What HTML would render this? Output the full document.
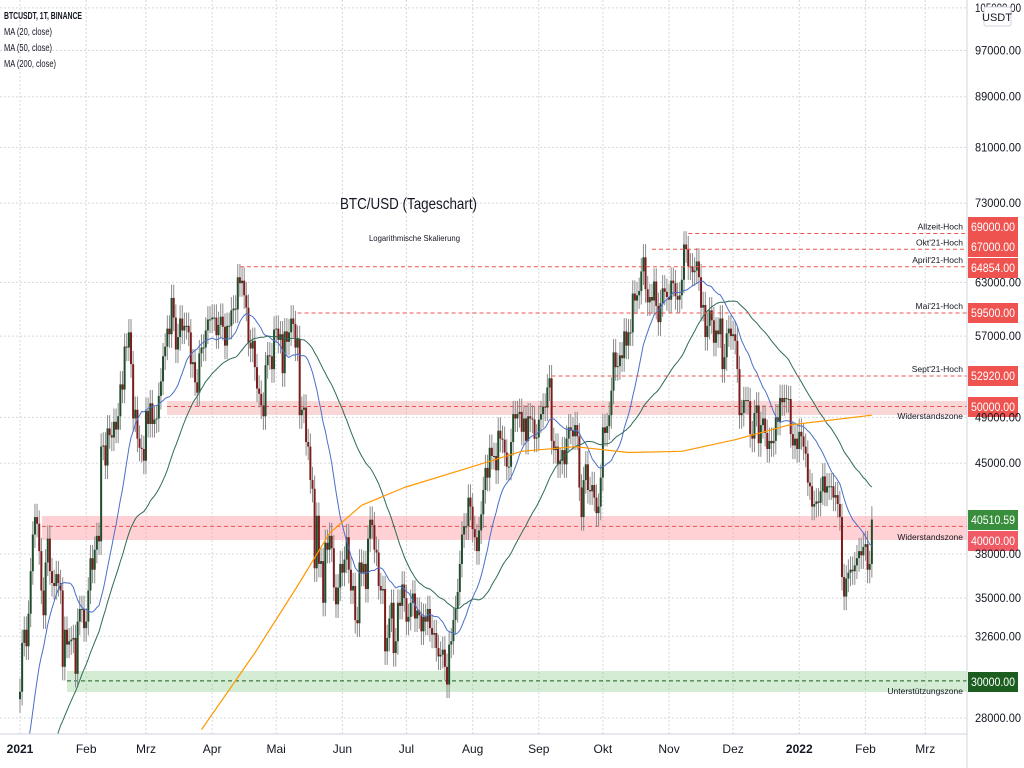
<!DOCTYPE html>
<html><head><meta charset="utf-8"><style>
html,body{margin:0;padding:0;background:#fff;width:1024px;height:768px;overflow:hidden}
svg{display:block;font-family:"Liberation Sans",sans-serif}
</style></head><body>
<svg id="chart" width="1024" height="768" viewBox="0 0 1024 768" xmlns="http://www.w3.org/2000/svg">
<defs><clipPath id="plotclip"><rect x="0" y="0" width="967" height="734"/></clipPath></defs>
<g id="grid"></g>
<g id="zones"></g>
<g id="candles" clip-path="url(#plotclip)"></g>
<g id="mas" clip-path="url(#plotclip)"></g>
<g id="levels"></g>
<g id="axes"></g>
<text x="4" y="19" font-size="10" font-weight="bold" fill="#131722" textLength="78" lengthAdjust="spacingAndGlyphs">BTCUSDT, 1T, BINANCE</text>
<text x="4" y="35" font-size="10" fill="#131722" textLength="48" lengthAdjust="spacingAndGlyphs">MA (20, close)</text>
<text x="4" y="51" font-size="10" fill="#131722" textLength="48" lengthAdjust="spacingAndGlyphs">MA (50, close)</text>
<text x="4" y="67" font-size="10" fill="#131722" textLength="52" lengthAdjust="spacingAndGlyphs">MA (200, close)</text>
<text x="340" y="209" font-size="16" fill="#131722" textLength="137" lengthAdjust="spacingAndGlyphs">BTC/USD (Tageschart)</text>
<text x="369" y="241" font-size="8" fill="#131722" textLength="91" lengthAdjust="spacingAndGlyphs">Logarithmische Skalierung</text>
<rect x="984" y="7" width="27" height="19" rx="2" fill="#fff" stroke="#cfd3dc"/>
<text x="997" y="21" font-size="11" text-anchor="middle" fill="#131722">USDT</text>
</svg>
<script>
const prior2020=[16.3,16.3,16.1,15.97,16.7,17.7,17.8,17.8,18.7,18.7,18.4,18.4,19.2,18.7,17.1,17.1,17.7,18.2,19.7,18.8,19.2,19.4,18.65,19.15,19.36,19.17,18.32,18.55,18.26,18.05,18.8,19.17,19.27,19.43,21.3,22.8,23.1,23.8,23.5,22.7,23.8,23.2,23.7,24.7,26.4,26.2,27.0,27.4,28.9,29.0];
const closes=[
29.4,32.2,33.0,32.0,34.0,36.8,39.4,40.7,40.2,38.2,35.5,33.9,37.4,39.1,36.8,36.0,35.8,36.6,36.0,35.5,30.8,33.0,32.1,32.3,32.4,32.5,30.4,33.5,34.3,34.3,33.1,
33.5,35.5,37.7,36.9,38.3,39.3,38.9,46.4,46.5,44.8,48.0,47.4,47.2,48.6,47.9,49.1,52.1,51.6,55.9,55.8,57.4,54.1,48.9,49.7,47.1,46.3,46.2,45.2,
49.6,48.4,50.3,48.4,48.8,48.9,51.0,52.4,54.9,55.9,57.8,57.2,61.2,59.0,55.6,56.9,58.9,57.6,58.1,58.1,57.4,54.1,54.3,52.3,51.3,55.2,55.8,55.8,57.6,58.8,58.8,
59.0,59.0,57.1,58.2,59.1,58.0,56.0,58.1,58.1,59.8,60.0,59.9,63.6,62.9,63.2,61.5,60.1,56.3,55.7,56.5,53.8,51.7,51.2,50.1,49.1,54.0,55.0,54.9,53.6,57.7,
57.8,56.6,57.2,53.2,57.5,56.4,57.4,58.9,58.3,55.8,56.7,49.2,49.7,49.9,46.8,46.4,43.6,42.9,37.0,40.8,37.3,37.5,34.7,38.8,38.3,39.3,38.4,35.7,34.6,35.7,37.3,
36.7,37.6,39.2,36.9,35.5,35.8,33.6,33.4,37.4,36.7,37.3,35.6,39.1,40.5,40.1,38.3,38.1,35.8,35.5,35.6,31.7,32.5,33.7,34.7,31.6,32.3,34.7,34.5,35.9,35.0,
33.5,33.8,34.7,35.3,33.7,34.2,33.9,32.9,33.8,33.5,34.3,33.1,32.7,32.8,31.9,31.4,31.5,31.8,30.8,29.8,32.1,32.3,33.6,34.3,35.4,37.3,39.4,40.0,40.0,42.2,41.5,
39.8,39.2,38.2,39.7,40.9,42.8,44.6,43.8,46.3,45.6,45.6,44.4,47.8,47.1,47.0,45.9,44.7,44.7,46.8,49.3,48.9,49.3,49.5,47.7,48.9,46.9,49.1,48.9,48.8,47.1,47.2,
48.8,49.3,50.0,49.9,51.8,52.7,46.9,46.1,46.4,44.9,45.2,46.1,44.9,47.1,48.1,47.8,47.3,48.3,47.3,43.0,40.7,43.6,44.9,42.8,42.7,43.2,42.2,41.0,41.5,43.8,
48.1,47.6,48.2,49.2,51.5,55.3,53.8,53.9,55.0,54.7,57.5,56.0,57.4,57.4,61.7,60.9,61.5,62.0,64.3,66.0,62.2,60.7,61.3,60.9,63.1,60.3,58.5,60.6,62.3,61.9,61.3,
61.0,63.2,62.9,61.4,61.0,61.5,63.3,67.6,67.0,64.9,64.9,64.2,64.4,65.5,63.6,60.1,60.4,56.9,58.1,59.8,58.7,56.3,57.6,57.2,58.9,53.6,54.8,57.3,57.8,57.0,
57.2,56.5,53.6,49.2,49.4,50.6,50.6,50.5,47.5,47.1,49.4,50.1,46.7,48.3,48.9,47.6,46.2,46.9,46.7,46.9,49.0,48.6,50.8,50.4,50.8,50.7,50.7,47.5,46.5,47.1,46.2,
47.7,47.3,46.4,45.8,43.4,43.1,41.5,41.7,41.9,41.8,42.7,43.9,42.6,43.1,43.1,43.1,42.2,42.4,41.7,40.7,36.4,35.1,36.3,36.7,36.9,36.8,37.2,37.7,38.2,37.9,38.5,
38.7,36.9,37.3,40.51];
const ma200Days=[85,110,130,145,160,180,210,235,260,285,310,335,360,399];
const ma200Values=[27.4,31.6,35.8,39.5,41.6,43.0,44.6,46.0,46.4,45.9,46.0,47.0,48.3,49.2];
const yTicks=[105000,97000,89000,81000,73000,63000,57000,49000,45000,38000,35000,32600,28000];
const monthLabels=["2021","Feb","Mrz","Apr","Mai","Jun","Jul","Aug","Sep","Okt","Nov","Dez","2022","Feb","Mrz"];
const monthDates=["2021-01-01","2021-02-01","2021-03-01","2021-04-01","2021-05-01","2021-06-01","2021-07-01","2021-08-01","2021-09-01","2021-10-01","2021-11-01","2021-12-01","2022-01-01","2022-02-01","2022-03-01"];
const levelNames=["Allzeit-Hoch","Okt'21-Hoch","April'21-Hoch","Mai'21-Hoch","Sept'21-Hoch"];
const levelValues=[69000,67000,64854,59500,52920];
const levelStartDays=[313,296,103,130,249];
const levelTagY=[227,247,268,313,376];

const NS="http://www.w3.org/2000/svg";
const X0=20,DX=2.135,PR=967,PB=734;
function xs(d){return X0+d*DX;}
function ys(p){return 718-1237*Math.log10(p/28000);}
function dayOf(s){return Math.round((Date.parse(s)-Date.UTC(2021,0,1))/864e5);}
function mk(tag,attrs,parent,txt){const e=document.createElementNS(NS,tag);for(const k in attrs)e.setAttribute(k,attrs[k]);if(txt!==undefined)e.textContent=txt;parent.appendChild(e);return e;}
const grid=document.getElementById('grid'),axes=document.getElementById('axes'),zones=document.getElementById('zones');
yTicks.forEach(v=>{const y=ys(v);
 const l=mk('line',{x1:0,x2:PR,y1:y,y2:y,stroke:'#d6d8dd','stroke-dasharray':'2,2'},grid);
 
 
 const t=mk('text',{x:975,y:y+4,'font-size':12,fill:'#131722',textLength:46,lengthAdjust:'spacingAndGlyphs'},axes,v.toFixed(2));
 
 
});
monthLabels.forEach((m,i)=>{const x=xs(dayOf(monthDates[i]));
 const l=mk('line',{x1:x,x2:x,y1:0,y2:PB,stroke:'#d6d8dd','stroke-dasharray':'2,2'},grid);
 
 
 const t=mk('text',{x:x,y:753,'font-size':12,'text-anchor':'middle',fill:'#131722','font-weight':(m.length==4?'bold':'normal')},axes,m);
 
 
});
let a=mk('line',{x1:PR,x2:PR,y1:0,y2:768,stroke:'#cfd3dc'},axes);


a=mk('line',{x1:0,x2:PR,y1:PB,y2:PB,stroke:'#cfd3dc'},axes);


function zone(x1,y1,y2,fill,lineY,lineCol,name){
 const r=mk('rect',{x:x1,y:y1,width:PR-x1,height:y2-y1,fill:fill},zones);
 
 
 const l=mk('line',{x1:x1,x2:PR,y1:lineY,y2:lineY,stroke:lineCol,'stroke-dasharray':'4,3'},zones);
 
 
}
zone(42,516,540,'rgba(255,140,150,0.4)',ys(40000),'#ef5350','resistance-zone-40k');
zone(167,401,415,'rgba(240,140,140,0.35)',ys(50000),'#ef5350','resistance-zone-50k');
zone(67,671,692,'rgba(130,200,130,0.35)',ys(30000),'#1b5e20','support-zone-30k');
const cg=document.getElementById('candles');
const all=prior2020.concat(closes);
closes.forEach((c,i)=>{const o=i==0?prior2020[prior2020.length-1]:closes[i-1];
 const x=xs(i),hi=Math.max(o,c)*1.025,lo=Math.min(o,c)*0.975;
 const w=mk('line',{x1:x,x2:x,y1:ys(hi*1000),y2:ys(lo*1000),stroke:'#8a8a8a','stroke-width':1},cg);
 
 
 const yt=ys(Math.max(o,c)*1000),yb=ys(Math.min(o,c)*1000);
 const b=mk('rect',{x:x-1,y:yt,width:2,height:Math.max(1,yb-yt),fill:c>=o?'#1e4d2b':'#7a1c1c'},cg);
 
 
});
const mg=document.getElementById('mas');
function maPath(n){let pts=[];for(let i=0;i<closes.length;i++){const k=i+prior2020.length;if(k+1<n)continue;let s=0;for(let j=k-n+1;j<=k;j++)s+=all[j];pts.push(xs(i).toFixed(1)+','+ys(s/n*1000).toFixed(1));}return pts.join(' ');}
let p=mk('polyline',{points:maPath(20),fill:'none',stroke:'#4a6fc9','stroke-width':1},mg);


p=mk('polyline',{points:maPath(50),fill:'none',stroke:'#2e6b56','stroke-width':1},mg);


p=mk('polyline',{points:ma200Days.map((d,i)=>xs(d).toFixed(1)+','+ys(ma200Values[i]*1000).toFixed(1)).join(' '),fill:'none',stroke:'#ff9800','stroke-width':1.2,'stroke-linejoin':'round'},mg);


const lg=document.getElementById('levels');
function tag(y,txt,col,name){
 const r=mk('rect',{x:968,y:y-10,width:50,height:20,fill:col},lg);
 
 
 const t=mk('text',{x:971,y:y+4,'font-size':12,fill:'#fff',textLength:44,lengthAdjust:'spacingAndGlyphs'},lg,txt);
 
 
}
levelValues.forEach((v,i)=>{const y=ys(v);
 const l=mk('line',{x1:xs(levelStartDays[i]),x2:PR,y1:y,y2:y,stroke:'#ef5350','stroke-dasharray':'4,3'},lg);
 
 
 const t=mk('text',{x:963,y:y-4,'font-size':8.5,'text-anchor':'end',fill:'#131722'},lg,levelNames[i]);
 
 
 tag(levelTagY[i],v.toFixed(2),'#ef5350','price-tag');
});
tag(407,'50000.00','#ef5350','price-tag-50k');
tag(520,'40510.59','#388e3c','last-price-tag');
tag(541,'40000.00','#f05a64','price-tag-40k');
tag(682,'30000.00','#1b5e20','price-tag-30k');
[['Widerstandszone',419],['Widerstandszone',540],['Unterstützungszone',694]].forEach(z=>{
 const t=mk('text',{x:963,y:z[1],'font-size':8.5,'text-anchor':'end',fill:'#131722'},lg,z[0]);
 
 
});
</script>
</body></html>
